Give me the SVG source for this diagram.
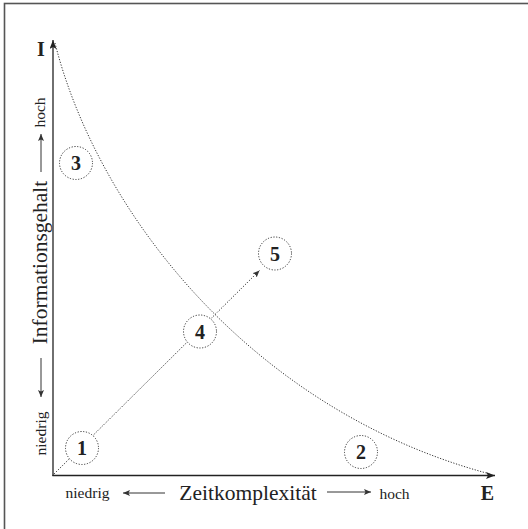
<svg xmlns="http://www.w3.org/2000/svg" width="528" height="529" viewBox="0 0 528 529">
<style>
  .serif{font-family:"Liberation Serif","Times New Roman",serif;fill:#222}
  .big{font-size:21.5px}
  .small{font-size:15.5px}
  .num{font-size:20px;font-weight:bold;text-anchor:middle}
  .axis{stroke:#222;stroke-width:1.3;fill:none}
  .lbl{stroke:#333;stroke-width:1;fill:none}
  .dot{stroke:#333;stroke-width:1;fill:none;stroke-dasharray:1.2 1.6}
  .node circle{fill:#fff;stroke:#333;stroke-width:1;stroke-dasharray:1.2 1.6}
</style>
<defs>
  <marker id="axhead" markerUnits="userSpaceOnUse" markerWidth="9" markerHeight="7" refX="9" refY="3.5" orient="auto">
    <path d="M0,0 L9,3.5 L0,7 L2,3.5 z" fill="#222"/>
  </marker>
  <marker id="smhead" markerUnits="userSpaceOnUse" markerWidth="7" markerHeight="6" refX="7" refY="3" orient="auto">
    <path d="M0,0 L7,3 L0,6 L1.5,3 z" fill="#333"/>
  </marker>
</defs>
<rect x="4.5" y="3.5" width="525" height="528" fill="#fff" stroke="#555" stroke-width="1.6"/>

<g id="axes">
  <path class="axis" d="M53,476 L53,40" marker-end="url(#axhead)"/>
  <path class="axis" d="M52.4,475.5 L495,475.5" marker-end="url(#axhead)"/>
  <text class="serif" x="41" y="56" font-size="20" font-weight="bold" text-anchor="middle">I</text>
  <text class="serif" x="487.5" y="500" font-size="20" font-weight="bold" text-anchor="middle">E</text>
  <text class="serif big" x="248" y="500" text-anchor="middle">Zeitkomplexität</text>
  <text class="serif small" x="87.5" y="498" text-anchor="middle">niedrig</text>
  <text class="serif small" x="394.5" y="499" text-anchor="middle">hoch</text>
  <path class="lbl" d="M165,493 L123,493" marker-end="url(#smhead)"/>
  <path class="lbl" d="M327,492 L371,492" marker-end="url(#smhead)"/>
  <text class="serif big" transform="translate(47,262.5) rotate(-90)" text-anchor="middle">Informationsgehalt</text>
  <text class="serif small" transform="translate(45,112.5) rotate(-90)" text-anchor="middle">hoch</text>
  <text class="serif small" transform="translate(46,433.5) rotate(-90)" text-anchor="middle">niedrig</text>
  <path class="lbl" d="M41,172 L41,134" marker-end="url(#smhead)"/>
  <path class="lbl" d="M41,358 L41,397" marker-end="url(#smhead)"/>
</g>

<path id="curve" class="dot" d="M55,43 C97,210 250,410 490,474"/>

<g id="connectors">
  <path class="dot" d="M54,474 L259.5,270.5" marker-end="url(#smhead)"/>
</g>

<g id="n1" class="node"><circle cx="82" cy="448" r="16.5"/><text class="serif num" x="82" y="455">1</text></g>
<g id="n2" class="node"><circle cx="361" cy="452" r="16.5"/><text class="serif num" x="361" y="459">2</text></g>
<g id="n3" class="node"><circle cx="76" cy="163" r="16.5"/><text class="serif num" x="76" y="170">3</text></g>
<g id="n4" class="node"><circle cx="200" cy="331.5" r="16.5"/><text class="serif num" x="200" y="338.5">4</text></g>
<g id="n5" class="node"><circle cx="275" cy="253.5" r="16.5"/><text class="serif num" x="275" y="260.5">5</text></g>
</svg>
